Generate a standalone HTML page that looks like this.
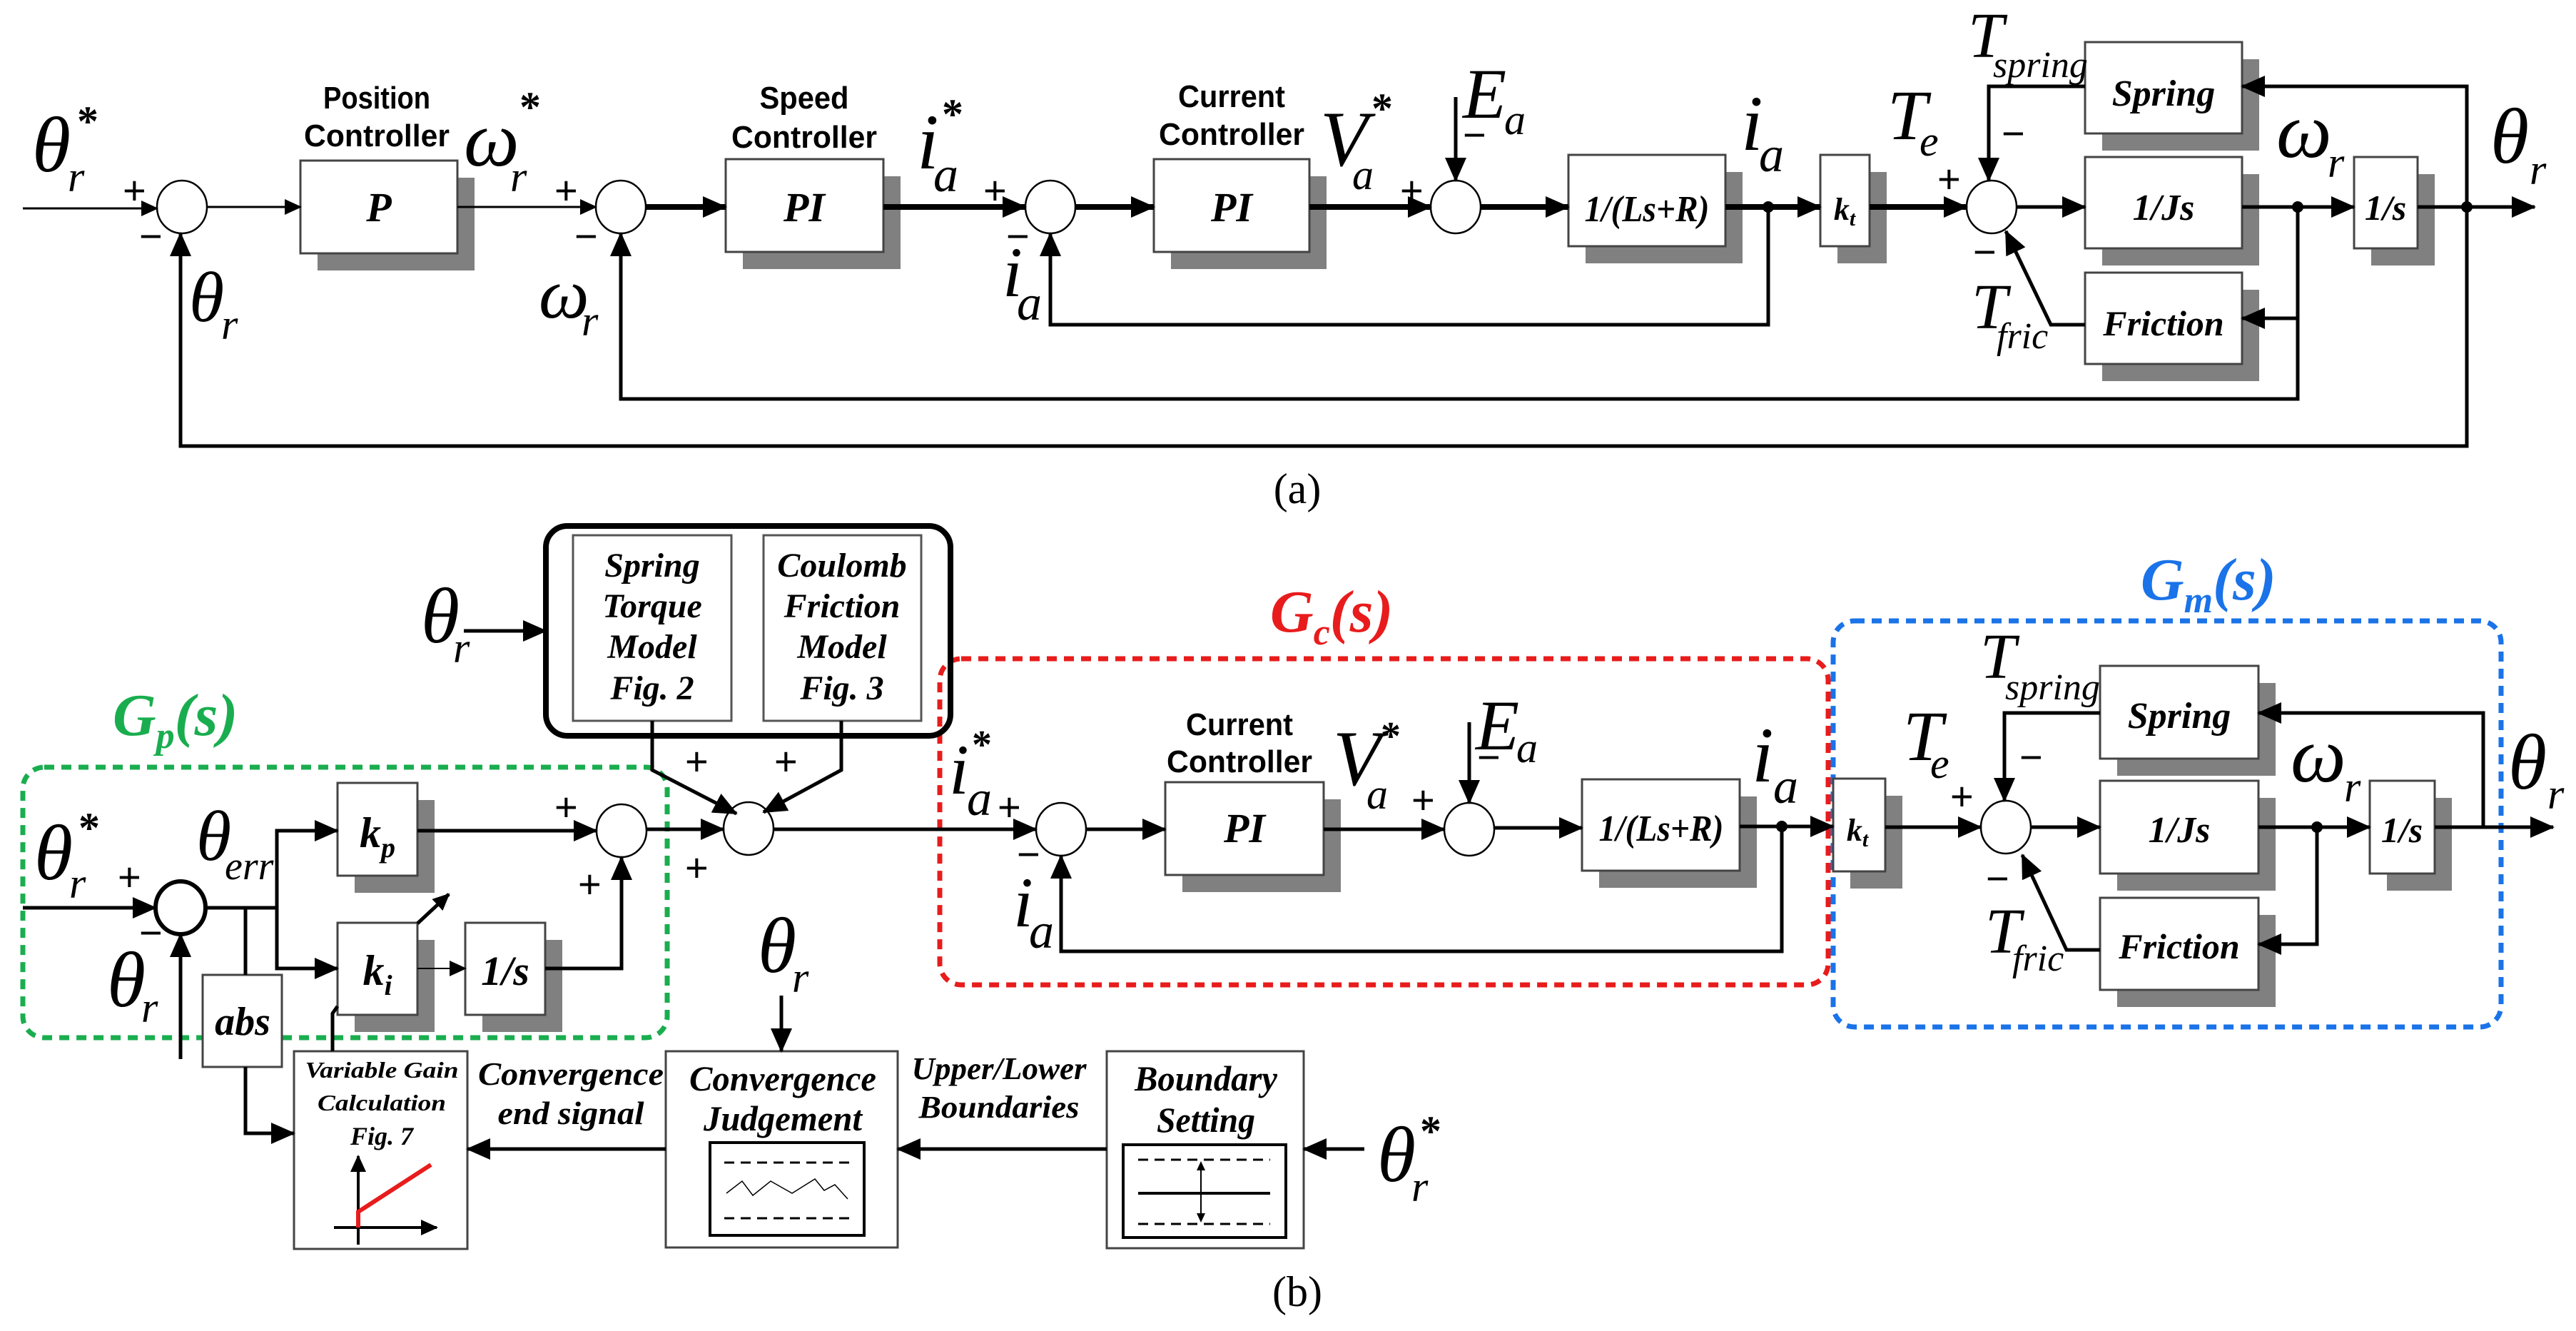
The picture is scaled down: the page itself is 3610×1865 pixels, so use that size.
<!DOCTYPE html>
<html><head><meta charset="utf-8"><style>
html,body{margin:0;padding:0;background:#fff}
svg{display:block}
.m{font-family:"Liberation Serif",serif;font-style:italic}
.b{font-family:"Liberation Serif",serif;font-style:italic;font-weight:bold}
.s{font-family:"Liberation Sans",sans-serif;font-weight:bold}
.pl{font-family:"Liberation Sans",sans-serif}
</style></head><body>
<svg width="3610" height="1865" viewBox="0 0 3610 1865" xmlns="http://www.w3.org/2000/svg">
<defs>
<marker id="a" markerUnits="userSpaceOnUse" markerWidth="34" markerHeight="30" refX="32" refY="15" orient="auto"><path d="M0,0 L34,15 L0,30 z" fill="#000"/></marker>
<marker id="as" markerUnits="userSpaceOnUse" markerWidth="24" markerHeight="22" refX="22" refY="11" orient="auto"><path d="M0,0 L24,11 L0,22 z" fill="#000"/></marker>
</defs>
<rect width="3610" height="1865" fill="#fff"/>

<!-- ================= TOP (a) ================= -->
<g fill="#808080">
<rect x="445" y="249" width="220" height="130"/>
<rect x="1041" y="247" width="221" height="130"/>
<rect x="1641" y="247" width="218" height="130"/>
<rect x="2222" y="241" width="220" height="128"/>
<rect x="2575" y="241" width="69" height="128"/>
<rect x="2946" y="83" width="220" height="128"/>
<rect x="2946" y="244" width="220" height="128"/>
<rect x="2946" y="406" width="220" height="128"/>
<rect x="3323" y="244" width="89" height="128"/>
</g>
<g fill="#fff" stroke="#444" stroke-width="3">
<rect x="421" y="225" width="220" height="130"/>
<rect x="1017" y="223" width="221" height="130"/>
<rect x="1617" y="223" width="218" height="130"/>
<rect x="2198" y="217" width="220" height="128"/>
<rect x="2551" y="217" width="69" height="128"/>
<rect x="2922" y="59" width="220" height="128"/>
<rect x="2922" y="220" width="220" height="128"/>
<rect x="2922" y="382" width="220" height="128"/>
<rect x="3299" y="220" width="89" height="128"/>
</g>
<g fill="#fff" stroke="#000" stroke-width="2.5">
<ellipse cx="255" cy="290" rx="35" ry="37"/>
<ellipse cx="870" cy="290" rx="35" ry="37"/>
<ellipse cx="1472" cy="290" rx="35" ry="37"/>
<ellipse cx="2040" cy="290" rx="35" ry="37"/>
<ellipse cx="2791" cy="290" rx="35" ry="37"/>
</g>
<g stroke="#000" fill="none" stroke-width="3">
<line x1="32" y1="292" x2="220" y2="292" marker-end="url(#as)"/>
<line x1="290" y1="290" x2="421" y2="290" marker-end="url(#as)"/>
<line x1="641" y1="290" x2="835" y2="290" marker-end="url(#as)"/>
</g>
<g stroke="#000" fill="none" stroke-width="8">
<line x1="905" y1="290" x2="1017" y2="290" marker-end="url(#a)"/>
<line x1="1238" y1="290" x2="1437" y2="290" marker-end="url(#a)"/>
<line x1="1507" y1="290" x2="1617" y2="290" marker-end="url(#a)"/>
<line x1="1835" y1="290" x2="2005" y2="290" marker-end="url(#a)"/>
<line x1="2075" y1="290" x2="2198" y2="290" marker-end="url(#a)"/>
<line x1="2418" y1="290" x2="2551" y2="290" marker-end="url(#a)"/>
<line x1="2620" y1="290" x2="2756" y2="290" marker-end="url(#a)"/>
</g>
<g stroke="#000" fill="none" stroke-width="5">
<line x1="2826" y1="290" x2="2922" y2="290" marker-end="url(#a)"/>
<line x1="3142" y1="290" x2="3299" y2="290" marker-end="url(#a)"/>
<line x1="3388" y1="290" x2="3552" y2="290" marker-end="url(#a)"/>
<line x1="2040" y1="136" x2="2040" y2="253" marker-end="url(#a)"/>
<polyline points="3457,290 3457,121 3142,121" marker-end="url(#a)"/>
<polyline points="2922,121 2787,121 2787,253" marker-end="url(#a)"/>
<polyline points="3220,290 3220,446 3142,446" marker-end="url(#a)"/>
<polyline points="2922,455 2874,455 2811,324" marker-end="url(#a)"/>
<polyline points="2478,290 2478,455 1472,455 1472,327" marker-end="url(#a)"/>
<polyline points="3220,446 3220,559 870,559 870,327" marker-end="url(#a)"/>
<polyline points="3457,290 3457,625 253,625 253,327" marker-end="url(#a)"/>
</g>
<g fill="#000"><circle cx="2478" cy="290" r="8"/><circle cx="3220" cy="290" r="8"/><circle cx="3457" cy="290" r="8"/></g>

<g class="s" text-anchor="middle" font-size="44">
<text x="528" y="152" textLength="150" lengthAdjust="spacingAndGlyphs">Position</text>
<text x="528" y="205" textLength="204" lengthAdjust="spacingAndGlyphs">Controller</text>
<text x="1127" y="152" textLength="125" lengthAdjust="spacingAndGlyphs">Speed</text>
<text x="1127" y="207" textLength="204" lengthAdjust="spacingAndGlyphs">Controller</text>
<text x="1726" y="150" textLength="150" lengthAdjust="spacingAndGlyphs">Current</text>
<text x="1726" y="203" textLength="204" lengthAdjust="spacingAndGlyphs">Controller</text>
</g>
<g class="b" text-anchor="middle" font-size="58">
<text x="531" y="310">P</text>
<text x="1127" y="310">PI</text>
<text x="1726" y="310">PI</text>
<text x="2308" y="310" font-size="52" textLength="175" lengthAdjust="spacingAndGlyphs">1/(Ls+R)</text>
<text x="2585" y="308" font-size="44">k<tspan font-size="30" dy="8">t</tspan></text>
<text x="3032" y="148" font-size="52">Spring</text>
<text x="3032" y="308" font-size="52">1/Js</text>
<text x="3032" y="470" font-size="50">Friction</text>
<text x="3343" y="308" font-size="50">1/s</text>
</g>
<g class="m" fill="#000">
<text x="45" y="240" font-size="110">θ</text><text x="95" y="268" font-size="60">r</text><text x="108" y="190" font-size="60" font-style="normal" font-weight="bold">*</text>
<text x="265" y="450" font-size="100">θ</text><text x="310" y="475" font-size="60">r</text>
<text x="650" y="232" font-size="110">ω</text><text x="715" y="268" font-size="60">r</text><text x="728" y="170" font-size="60" font-weight="bold" font-style="normal">*</text>
<text x="755" y="445" font-size="100">ω</text><text x="815" y="470" font-size="60">r</text>
<text x="1285" y="236" font-size="110">i</text><text x="1308" y="268" font-size="70">a</text><text x="1320" y="180" font-size="60" font-weight="bold" font-style="normal">*</text>
<text x="1405" y="415" font-size="100">i</text><text x="1425" y="448" font-size="70">a</text>
<text x="1850" y="232" font-size="110">V</text><text x="1895" y="265" font-size="60">a</text><text x="1922" y="172" font-size="60" font-weight="bold" font-style="normal">*</text>
<text x="2050" y="165" font-size="100">E</text><text x="2108" y="188" font-size="60">a</text>
<text x="2440" y="210" font-size="110">i</text><text x="2465" y="240" font-size="70">a</text>
<text x="2645" y="195" font-size="100">T</text><text x="2690" y="218" font-size="60">e</text>
<text x="2758" y="80" font-size="90">T</text><text x="2793" y="108" font-size="52">spring</text>
<text x="2763" y="460" font-size="90">T</text><text x="2798" y="488" font-size="52">fric</text>
<text x="3190" y="220" font-size="110">ω</text><text x="3262" y="248" font-size="60">r</text>
<text x="3490" y="228" font-size="110">θ</text><text x="3545" y="258" font-size="60">r</text>
</g>
<g class="pl" font-size="56" fill="#000">
<text x="172" y="286">+</text><text x="195" y="350">−</text>
<text x="777" y="286">+</text><text x="805" y="350">−</text>
<text x="1378" y="286">+</text><text x="1410" y="350">−</text>
<text x="1962" y="286">+</text><text x="2050" y="208">−</text>
<text x="2715" y="270">+</text><text x="2805" y="206">−</text><text x="2765" y="372">−</text>
</g>
<text x="1818" y="705" font-family="Liberation Serif, serif" font-size="60" text-anchor="middle">(a)</text>

<!-- ================= BOTTOM (b) ================= -->
<!-- dashed regions -->
<rect x="32" y="1075" width="903" height="379" rx="30" fill="none" stroke="#1aad4f" stroke-width="7" stroke-dasharray="14,10"/>
<rect x="1317" y="923" width="1245" height="457" rx="30" fill="none" stroke="#e81c1c" stroke-width="7" stroke-dasharray="14,10"/>
<rect x="2569" y="870" width="936" height="569" rx="30" fill="none" stroke="#1a73e8" stroke-width="7" stroke-dasharray="14,10"/>
<text x="158" y="1030" class="b" font-size="84" fill="#1aad4f">G<tspan font-size="52" dy="18">p</tspan><tspan dy="-18">(s)</tspan></text>
<text x="1780" y="885" class="b" font-size="84" fill="#e81c1c">G<tspan font-size="52" dy="18">c</tspan><tspan dy="-18">(s)</tspan></text>
<text x="3000" y="840" class="b" font-size="84" fill="#1a73e8">G<tspan font-size="52" dy="18">m</tspan><tspan dy="-18">(s)</tspan></text>

<!-- model box -->
<rect x="765" y="737" width="567" height="294" rx="30" fill="none" stroke="#000" stroke-width="8"/>
<rect x="803" y="750" width="222" height="260" fill="#fff" stroke="#555" stroke-width="3"/>
<rect x="1070" y="750" width="221" height="260" fill="#fff" stroke="#555" stroke-width="3"/>
<g class="b" font-size="48" text-anchor="middle">
<text x="914" y="808">Spring</text><text x="914" y="865">Torque</text><text x="914" y="922">Model</text><text x="914" y="980">Fig. 2</text>
<text x="1180" y="808">Coulomb</text><text x="1180" y="865">Friction</text><text x="1180" y="922">Model</text><text x="1180" y="980">Fig. 3</text>
</g>

<!-- shadows -->
<g fill="#808080">
<rect x="497" y="1121" width="112" height="130"/>
<rect x="497" y="1317" width="112" height="129"/>
<rect x="676" y="1317" width="112" height="129"/>
<rect x="1657" y="1120" width="222" height="130"/>
<rect x="2241" y="1116" width="221" height="128"/>
<rect x="2593" y="1115" width="73" height="130"/>
<rect x="2967" y="957" width="222" height="130"/>
<rect x="2967" y="1118" width="222" height="130"/>
<rect x="2967" y="1282" width="222" height="129"/>
<rect x="3345" y="1118" width="91" height="130"/>
</g>
<g fill="#fff" stroke="#444" stroke-width="3">
<rect x="473" y="1097" width="112" height="130"/>
<rect x="473" y="1293" width="112" height="129"/>
<rect x="652" y="1293" width="112" height="129"/>
<rect x="284" y="1366" width="111" height="129"/>
<rect x="412" y="1473" width="243" height="277"/>
<rect x="933" y="1473" width="325" height="275"/>
<rect x="1551" y="1473" width="276" height="276"/>
<rect x="1633" y="1096" width="222" height="130"/>
<rect x="2217" y="1092" width="221" height="128"/>
<rect x="2569" y="1091" width="73" height="130"/>
<rect x="2943" y="933" width="222" height="130"/>
<rect x="2943" y="1094" width="222" height="130"/>
<rect x="2943" y="1258" width="222" height="129"/>
<rect x="3321" y="1094" width="91" height="130"/>
</g>
<g fill="#fff" stroke="#000" stroke-width="2.5">
<ellipse cx="1049" cy="1161" rx="35" ry="37"/>
<ellipse cx="871" cy="1164" rx="35" ry="37"/>
<ellipse cx="1487" cy="1162" rx="35" ry="37"/>
<ellipse cx="2059" cy="1162" rx="35" ry="37"/>
<ellipse cx="2811" cy="1159" rx="35" ry="37"/>
</g>
<ellipse cx="253" cy="1272" rx="35" ry="37" fill="#fff" stroke="#000" stroke-width="6"/>

<g stroke="#000" fill="none" stroke-width="5">
<line x1="650" y1="884" x2="765" y2="884" marker-end="url(#a)"/>
<polyline points="914,1010 914,1079 1032,1140" marker-end="url(#a)"/>
<polyline points="1179,1010 1179,1079 1070,1138" marker-end="url(#a)"/>
<line x1="32" y1="1272" x2="218" y2="1272" marker-end="url(#a)"/>
<line x1="253" y1="1484" x2="253" y2="1309" marker-end="url(#a)"/>
<line x1="288" y1="1272" x2="388" y2="1272"/>
<polyline points="473,1164 388,1164 388,1357 473,1357" />
<line x1="388" y1="1164" x2="473" y2="1164" marker-end="url(#a)"/>
<line x1="388" y1="1357" x2="473" y2="1357" marker-end="url(#a)"/>
<line x1="344" y1="1272" x2="344" y2="1366"/>
<polyline points="344,1495 344,1588 412,1588" marker-end="url(#a)"/>
<polyline points="466,1473 466,1420 473,1410"/>
<line x1="585" y1="1164" x2="836" y2="1164" marker-end="url(#a)"/>
<polyline points="764,1357 871,1357 871,1201" marker-end="url(#a)"/>
<line x1="906" y1="1162" x2="1014" y2="1162" marker-end="url(#a)"/>
<line x1="1084" y1="1162" x2="1452" y2="1162" marker-end="url(#a)"/>
<line x1="1522" y1="1162" x2="1633" y2="1162" marker-end="url(#a)"/>
<line x1="1855" y1="1162" x2="2024" y2="1162" marker-end="url(#a)"/>
<line x1="2059" y1="1012" x2="2059" y2="1125" marker-end="url(#a)"/>
<line x1="2094" y1="1160" x2="2217" y2="1160" marker-end="url(#a)"/>
<line x1="2438" y1="1158" x2="2569" y2="1158" marker-end="url(#a)"/>
<polyline points="2497,1158 2497,1333 1487,1333 1487,1199" marker-end="url(#a)"/>
<line x1="2642" y1="1159" x2="2776" y2="1159" marker-end="url(#a)"/>
<line x1="2846" y1="1159" x2="2943" y2="1159" marker-end="url(#a)"/>
<line x1="3165" y1="1159" x2="3321" y2="1159" marker-end="url(#a)"/>
<line x1="3412" y1="1159" x2="3578" y2="1159" marker-end="url(#a)"/>
<polyline points="3480,1159 3480,999 3165,999" marker-end="url(#a)"/>
<polyline points="2943,999 2809,999 2809,1122" marker-end="url(#a)"/>
<polyline points="3247,1159 3247,1323 3165,1323" marker-end="url(#a)"/>
<polyline points="2943,1331 2896,1331 2834,1198" marker-end="url(#a)"/>
<line x1="1095" y1="1395" x2="1095" y2="1473" marker-end="url(#a)"/>
<line x1="933" y1="1610" x2="655" y2="1610" marker-end="url(#a)"/>
<line x1="1551" y1="1610" x2="1258" y2="1610" marker-end="url(#a)"/>
<line x1="1912" y1="1610" x2="1827" y2="1610" marker-end="url(#a)"/>
<line x1="585" y1="1294" x2="629" y2="1253" marker-end="url(#as)"/>
</g>
<line x1="585" y1="1357" x2="652" y2="1357" stroke="#000" stroke-width="2" marker-end="url(#as)"/>
<g fill="#000"><circle cx="2497" cy="1158" r="8"/><circle cx="3247" cy="1159" r="8"/></g>

<!-- VGC mini graph -->
<line x1="502" y1="1744" x2="502" y2="1620" stroke="#000" stroke-width="4" marker-end="url(#as)"/>
<line x1="468" y1="1720" x2="612" y2="1720" stroke="#000" stroke-width="4" marker-end="url(#as)"/>
<polyline points="502,1720 502,1698 604,1632" fill="none" stroke="#e81c1c" stroke-width="6"/>
<!-- judgement mini graph -->
<rect x="995" y="1601" width="216" height="130" fill="none" stroke="#000" stroke-width="4"/>
<g stroke="#000" stroke-width="3" stroke-dasharray="14,9">
<line x1="1015" y1="1629" x2="1192" y2="1629"/><line x1="1015" y1="1707" x2="1192" y2="1707"/>
</g>
<polyline points="1018,1672 1040,1655 1055,1675 1080,1655 1110,1672 1142,1652 1155,1668 1170,1660 1188,1680" fill="none" stroke="#000" stroke-width="1.5"/>
<!-- boundary mini graph -->
<rect x="1574" y="1604" width="228" height="130" fill="none" stroke="#000" stroke-width="4"/>
<g stroke="#000" stroke-width="3" stroke-dasharray="14,9">
<line x1="1595" y1="1625" x2="1780" y2="1625"/><line x1="1595" y1="1715" x2="1780" y2="1715"/>
</g>
<line x1="1595" y1="1672" x2="1780" y2="1672" stroke="#000" stroke-width="4"/>
<line x1="1683" y1="1630" x2="1683" y2="1710" stroke="#000" stroke-width="2"/>
<path d="M1677,1640 L1683,1627 L1689,1640 z M1677,1700 L1683,1713 L1689,1700 z" fill="#000"/>

<g class="b" text-anchor="middle" fill="#000">
<text x="529" y="1187" font-size="60">k<tspan font-size="40" dy="14">p</tspan></text>
<text x="529" y="1380" font-size="60">k<tspan font-size="40" dy="14">i</tspan></text>
<text x="708" y="1380" font-size="58">1/s</text>
<text x="340" y="1450" font-size="56">abs</text>
<text x="535" y="1510" font-size="32" textLength="215" lengthAdjust="spacingAndGlyphs">Variable Gain</text>
<text x="535" y="1556" font-size="32" textLength="180" lengthAdjust="spacingAndGlyphs">Calculation</text>
<text x="535" y="1604" font-size="36">Fig. 7</text>
<text x="800" y="1520" font-size="46" textLength="260" lengthAdjust="spacingAndGlyphs">Convergence</text>
<text x="800" y="1575" font-size="46" textLength="205" lengthAdjust="spacingAndGlyphs">end signal</text>
<text x="1097" y="1528" font-size="50" textLength="262" lengthAdjust="spacingAndGlyphs">Convergence</text>
<text x="1097" y="1584" font-size="50" textLength="222" lengthAdjust="spacingAndGlyphs">Judgement</text>
<text x="1400" y="1512" font-size="44" textLength="245" lengthAdjust="spacingAndGlyphs">Upper/Lower</text>
<text x="1400" y="1566" font-size="44" textLength="225" lengthAdjust="spacingAndGlyphs">Boundaries</text>
<text x="1690" y="1528" font-size="50" textLength="200" lengthAdjust="spacingAndGlyphs">Boundary</text>
<text x="1690" y="1586" font-size="50" textLength="138" lengthAdjust="spacingAndGlyphs">Setting</text>
<text x="1744" y="1180" font-size="58">PI</text>
<text x="2328" y="1178" font-size="52" textLength="175" lengthAdjust="spacingAndGlyphs">1/(Ls+R)</text>
<text x="2603" y="1178" font-size="44">k<tspan font-size="30" dy="8">t</tspan></text>
<text x="3054" y="1020" font-size="52">Spring</text>
<text x="3054" y="1180" font-size="52">1/Js</text>
<text x="3054" y="1343" font-size="50">Friction</text>
<text x="3366" y="1180" font-size="50">1/s</text>
</g>
<g class="s" text-anchor="middle" font-size="44">
<text x="1737" y="1030" textLength="150" lengthAdjust="spacingAndGlyphs">Current</text>
<text x="1737" y="1082" textLength="204" lengthAdjust="spacingAndGlyphs">Controller</text>
</g>
<g class="m" fill="#000">
<text x="590" y="900" font-size="110">θ</text><text x="635" y="928" font-size="60">r</text>
<text x="48" y="1232" font-size="110">θ</text><text x="97" y="1258" font-size="60">r</text><text x="110" y="1180" font-size="60" font-weight="bold" font-style="normal">*</text>
<text x="150" y="1410" font-size="110">θ</text><text x="198" y="1432" font-size="60">r</text>
<text x="275" y="1205" font-size="100">θ</text><text x="315" y="1232" font-size="56">err</text>
<text x="1062" y="1362" font-size="110">θ</text><text x="1110" y="1390" font-size="60">r</text>
<text x="1930" y="1655" font-size="110">θ</text><text x="1978" y="1683" font-size="60">r</text><text x="1990" y="1605" font-size="60" font-weight="bold" font-style="normal">*</text>
<text x="1330" y="1112" font-size="100">i</text><text x="1355" y="1142" font-size="70">a</text><text x="1362" y="1062" font-size="56" font-weight="bold" font-style="normal">*</text>
<text x="1420" y="1298" font-size="100">i</text><text x="1442" y="1328" font-size="70">a</text>
<text x="1868" y="1100" font-size="110">V</text><text x="1915" y="1133" font-size="60">a</text><text x="1935" y="1050" font-size="56" font-weight="bold" font-style="normal">*</text>
<text x="2068" y="1050" font-size="100">E</text><text x="2125" y="1068" font-size="60">a</text>
<text x="2455" y="1095" font-size="110">i</text><text x="2485" y="1125" font-size="70">a</text>
<text x="2667" y="1065" font-size="100">T</text><text x="2705" y="1090" font-size="60">e</text>
<text x="2775" y="950" font-size="90">T</text><text x="2810" y="980" font-size="52">spring</text>
<text x="2782" y="1335" font-size="90">T</text><text x="2820" y="1360" font-size="52">fric</text>
<text x="3210" y="1095" font-size="110">ω</text><text x="3285" y="1123" font-size="60">r</text>
<text x="3515" y="1105" font-size="110">θ</text><text x="3570" y="1133" font-size="60">r</text>
</g>
<g class="pl" font-size="56" fill="#000">
<text x="165" y="1248">+</text><text x="195" y="1326">−</text>
<text x="777" y="1150">+</text><text x="810" y="1258">+</text>
<text x="960" y="1086">+</text><text x="1085" y="1086">+</text><text x="960" y="1235">+</text>
<text x="1398" y="1150">+</text><text x="1425" y="1216">−</text>
<text x="1978" y="1140">+</text><text x="2070" y="1080">−</text>
<text x="2733" y="1135">+</text><text x="2830" y="1080">−</text><text x="2783" y="1250">−</text>
</g>
<text x="1818" y="1830" font-family="Liberation Serif, serif" font-size="60" text-anchor="middle">(b)</text>
</svg>
</body></html>
